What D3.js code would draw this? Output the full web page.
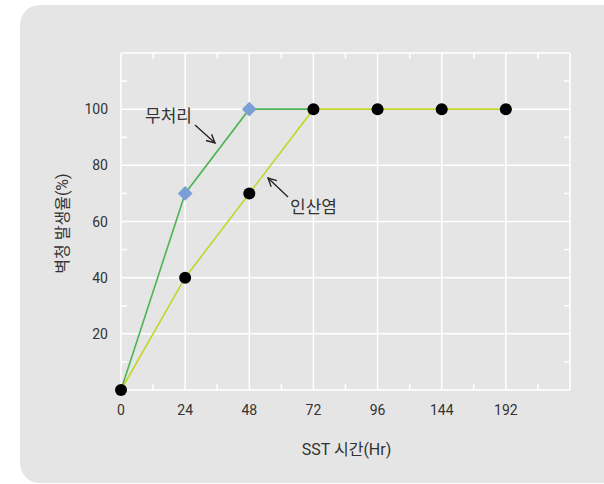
<!DOCTYPE html>
<html>
<head>
<meta charset="utf-8">
<script src="https://cdn.jsdelivr.net/npm/d3@7"></script>
<style>
  body { margin: 0; background: #fff; }
  text { font-family: "Roboto", "Noto Sans CJK KR", sans-serif; fill: #333; }
</style>
</head>
<body>
<div id="chart"></div>
<script>
// ----------------------
// Data
// ----------------------
const hours = ["0", "24", "48", "72", "96", "144", "192"];
const control = [0, 70, 100, 100];              // 무처리
const phosphate = [0, 40, 70, 100, 100, 100, 100]; // 인산염
const yTicks = [20, 40, 60, 80, 100];

const width = 604, height = 484;
const plot = { left: 121, right: 570, top: 53, bottom: 390 };

const svg = d3.select("#chart").append("svg")
    .attr("width", width)
    .attr("height", height);

// gray rounded panel
svg.append("rect")
    .attr("x", 20).attr("y", 5)
    .attr("width", 640).attr("height", 478)
    .attr("rx", 20)
    .attr("fill", "#e5e5e5");

// scales (one extra empty column on the right)
const x = d3.scaleLinear().domain([0, hours.length]).range([plot.left, plot.right]);
const y = d3.scaleLinear().domain([0, 120]).range([plot.bottom, plot.top]);

const grid = svg.append("g").attr("stroke", "#fff").attr("stroke-width", 1.5);

// vertical grid
grid.selectAll(".vx")
    .data(d3.range(0, hours.length + 1))
    .enter().append("line")
    .attr("x1", d => x(d)).attr("x2", d => x(d))
    .attr("y1", plot.top).attr("y2", plot.bottom);

// horizontal grid
grid.selectAll(".hy")
    .data(d3.range(0, 121, 20))
    .enter().append("line")
    .attr("x1", plot.left).attr("x2", plot.right)
    .attr("y1", d => y(d)).attr("y2", d => y(d));

// minor ticks (inside)
const tl = 6;
d3.range(0.5, hours.length, 1).forEach(i => {
    grid.append("line").attr("x1", x(i)).attr("x2", x(i)).attr("y1", plot.top).attr("y2", plot.top + tl);
    grid.append("line").attr("x1", x(i)).attr("x2", x(i)).attr("y1", plot.bottom).attr("y2", plot.bottom - tl);
});
d3.range(10, 120, 20).forEach(v => {
    grid.append("line").attr("x1", plot.left).attr("x2", plot.left + tl).attr("y1", y(v)).attr("y2", y(v));
    grid.append("line").attr("x1", plot.right).attr("x2", plot.right - tl).attr("y1", y(v)).attr("y2", y(v));
});

// tick labels
svg.selectAll(".xl")
    .data(hours)
    .enter().append("text")
    .attr("x", (d, i) => x(i))
    .attr("y", plot.bottom + 25)
    .attr("text-anchor", "middle")
    .attr("font-size", 14)
    .text(d => d);

svg.selectAll(".yl")
    .data(yTicks)
    .enter().append("text")
    .attr("x", plot.left - 13)
    .attr("y", d => y(d) + 5)
    .attr("text-anchor", "end")
    .attr("font-size", 14)
    .text(d => d);

// axis titles
svg.append("text")
    .attr("x", (plot.left + plot.right) / 2 + 1)
    .attr("y", 455)
    .attr("text-anchor", "middle")
    .attr("font-size", 16)
    .text("SST 시간(Hr)");

svg.append("text")
    .attr("transform", `translate(68, ${(plot.top + plot.bottom) / 2 + 2}) rotate(-90)`)
    .attr("text-anchor", "middle")
    .attr("font-size", 16)
    .text("벽청 발생율(%)");

// lines
const line = d3.line().x((d, i) => x(i)).y(d => y(d));

svg.append("path")
    .datum(control)
    .attr("d", line)
    .attr("fill", "none")
    .attr("stroke", "#4cb453")
    .attr("stroke-width", 1.6);

svg.append("path")
    .datum(phosphate)
    .attr("d", line)
    .attr("fill", "none")
    .attr("stroke", "#c2d62a")
    .attr("stroke-width", 1.6);

// markers
svg.selectAll(".dia")
    .data(control.map((v, i) => ({ v, i })).filter(d => phosphate[d.i] !== d.v))
    .enter().append("path")
    .attr("d", d3.symbol().type(d3.symbolDiamond2).size(140))
    .attr("transform", d => `translate(${x(d.i)},${y(d.v)})`)
    .attr("fill", "#7a9fd6");

svg.selectAll(".dot")
    .data(phosphate)
    .enter().append("circle")
    .attr("cx", (d, i) => x(i))
    .attr("cy", d => y(d))
    .attr("r", 6)
    .attr("fill", "#000");

// annotations
const defs = svg.append("defs");
defs.append("marker")
    .attr("id", "arr")
    .attr("viewBox", "0 0 10 10")
    .attr("refX", 9).attr("refY", 5)
    .attr("markerWidth", 8).attr("markerHeight", 8)
    .attr("orient", "auto")
    .append("path")
    .attr("d", "M1,1 L9,5 L1,9")
    .attr("fill", "none")
    .attr("stroke", "#222")
    .attr("stroke-width", 1.3);

svg.append("text")
    .attr("x", 145).attr("y", 122)
    .attr("font-size", 17)
    .text("무처리");
svg.append("line")
    .attr("x1", 195).attr("y1", 125).attr("x2", 215).attr("y2", 143)
    .attr("stroke", "#222").attr("stroke-width", 1.3)
    .attr("marker-end", "url(#arr)");

svg.append("text")
    .attr("x", 290).attr("y", 213)
    .attr("font-size", 17)
    .text("인산염");
svg.append("line")
    .attr("x1", 288).attr("y1", 197).attr("x2", 268).attr("y2", 178)
    .attr("stroke", "#222").attr("stroke-width", 1.3)
    .attr("marker-end", "url(#arr)");
</script>
</body>
</html>
